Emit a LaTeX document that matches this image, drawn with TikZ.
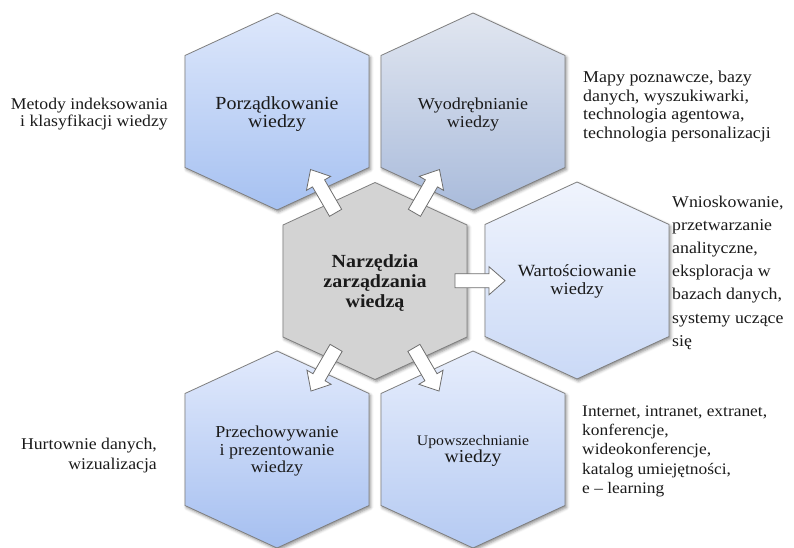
\documentclass[tikz,border=0pt]{standalone}
\usepackage{fontspec}
\setmainfont{Liberation Serif}[FakeStretch=1.08]
\usetikzlibrary{calc,shadows.blur}

\definecolor{edgegray}{HTML}{7F7F7F}
\definecolor{arrowgray}{HTML}{6E6E6E}
\definecolor{coregray}{HTML}{D3D3D3}
\definecolor{txt}{HTML}{1A1A1A}
\definecolor{tlTop}{HTML}{DDE7FB}\definecolor{tlBot}{HTML}{A6C1F1}
\definecolor{trTop}{HTML}{E1E6F0}\definecolor{trBot}{HTML}{A9BBDB}
\definecolor{rTop}{HTML}{F0F4FD}\definecolor{rBot}{HTML}{CAD9F6}
\definecolor{blTop}{HTML}{E2EAFC}\definecolor{blBot}{HTML}{A5BFF0}
\definecolor{brTop}{HTML}{E6EDFC}\definecolor{brBot}{HTML}{B5CAF2}

% hexagon (pointed top) around a named coordinate
\newcommand\hexshape[1]{($(#1)+(0,-98.5)$) -- ($(#1)+(92,-56)$) -- ($(#1)+(92,56)$) -- ($(#1)+(0,98.5)$) -- ($(#1)+(-92,56)$) -- ($(#1)+(-92,-56)$) -- cycle}
\newcommand\fsz[2]{\fontsize{#1}{#2}\selectfont}

\tikzset{
  hexbase/.style={draw=edgegray, line width=0.8pt, line join=miter,
    blur shadow={shadow xshift=1.5pt, shadow yshift=-2pt, shadow blur radius=3pt, shadow opacity=45}},
  hexgrad/.style n args={2}{hexbase, top color=#1, bottom color=#2},
  hexlabel/.style={inner sep=0pt, align=center, text=txt},
  sidenote/.style={inner sep=0pt, text=txt},
  arrowbody/.style={fill=white, draw=arrowgray, line width=0.8pt, line join=miter},
  blockarr/.pic={\path[arrowbody] (-25,-7) -- (9,-7) -- (9,-14) -- (25,0) -- (9,14) -- (9,7) -- (-25,7) -- cycle;}
}

\begin{document}
\begin{tikzpicture}[x=1pt, y=-1pt]
  \useasboundingbox (0,0) rectangle (794,548);

  % hexagon centres
  \coordinate (core) at (375,281);
  \coordinate (tl) at (277,111.5);
  \coordinate (tr) at (473,111.5);
  \coordinate (rt) at (577,280.5);
  \coordinate (bl) at (277,449.5);
  \coordinate (br) at (473,449.5);

  % hexagons
  \path[hexgrad={tlTop}{tlBot}] \hexshape{tl};
  \path[hexgrad={trTop}{trBot}] \hexshape{tr};
  \path[hexgrad={rTop}{rBot}] \hexshape{rt};
  \path[hexgrad={blTop}{blBot}] \hexshape{bl};
  \path[hexgrad={brTop}{brBot}] \hexshape{br};
  \path[hexbase, fill=coregray] \hexshape{core};

  % labels inside the hexagons
  \node[hexlabel, font=\fsz{18.5}{18.4}] (tlt) at (277,114.2) {Porządkowanie\\wiedzy};
  \node[hexlabel, font=\fsz{16.7}{18.4}] (trt) at (473,114.6) {Wyodrębnianie\\wiedzy};
  \node[hexlabel, font=\fsz{18.5}{20}\bfseries] (coret) at (375,282.9) {Narzędzia\\zarządzania\\wiedzą};
  \node[hexlabel, font=\fsz{17.1}{18}] (rtt) at (577,281) {Wartościowanie\\wiedzy};
  \node[hexlabel, font=\fsz{16.7}{17.5}] (blt) at (277,451.3) {Przechowywanie\\i prezentowanie\\wiedzy};
  \node[hexlabel, font=\fsz{14.6}{17.7}] (brt) at (473,450.9) {Upowszechnianie\\{\fsz{18.2}{17.7}wiedzy}};

  % block arrows from the core outwards
  \path (core) -- (tl) pic[pos=0.53, sloped, allow upside down] {blockarr};
  \path (core) -- (tr) pic[pos=0.53, sloped, allow upside down] {blockarr};
  \path (core) -- (rt) pic[pos=0.52, sloped, allow upside down] {blockarr};
  \path (core) -- (bl) pic[pos=0.525, sloped, allow upside down] {blockarr};
  \path (core) -- (br) pic[pos=0.525, sloped, allow upside down] {blockarr};

  % side notes
  \node[sidenote, align=right, anchor=east, font=\fsz{16.4}{17}] (ntl) at (168,113.7)
    {Metody indeksowania\\i klasyfikacji wiedzy};
  \node[sidenote, align=left, anchor=west, font=\fsz{16.6}{18.8}] (ntr) at (583,106.5)
    {Mapy poznawcze, bazy\\danych, wyszukiwarki,\\technologia agentowa,\\technologia personalizacji};
  \node[sidenote, align=left, anchor=west, font=\fsz{16.5}{23.2}] (nrt) at (672,272.6)
    {Wnioskowanie,\\przetwarzanie\\analityczne,\\eksploracja w\\bazach danych,\\systemy uczące\\się};
  \node[sidenote, align=right, anchor=east, font=\fsz{16.4}{20}] (nbl) at (157,455.5)
    {Hurtownie danych,\\wizualizacja};
  \node[sidenote, align=left, anchor=west, font=\fsz{16.1}{19.2}] (nbr) at (582,451.4)
    {Internet, intranet, extranet,\\konferencje,\\wideokonferencje,\\katalog umiejętności,\\e – learning};
\end{tikzpicture}
\end{document}
